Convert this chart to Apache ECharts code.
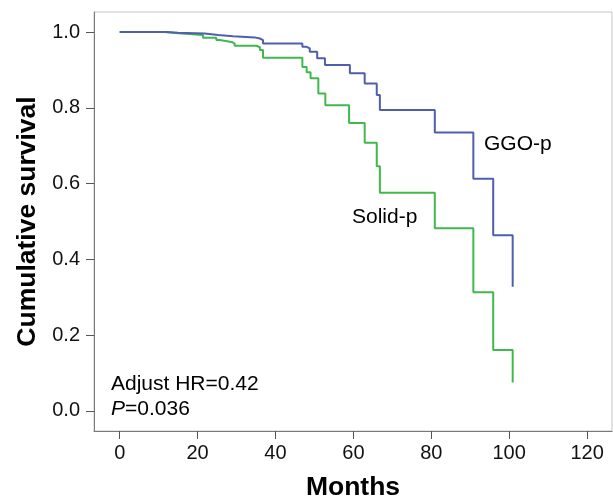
<!DOCTYPE html>
<html>
<head>
<meta charset="utf-8">
<script src="https://cdn.jsdelivr.net/npm/echarts@6/dist/echarts.min.js"></script>
<style>
  html, body { margin: 0; padding: 0; background: #fff; }
  #chart { width: 613px; height: 499px; }
</style>
</head>
<body>
<div id="chart"></div>
<script>
// Kaplan-Meier steps (months, survival after the drop)
const ggoMonths = [0, 12.0, 15.0, 21.8, 25.3, 29.1, 34.7, 36.0, 36.8, 46.9, 48.0, 48.8, 50.7, 52.7, 59.1, 62.9, 66.0, 66.8, 80.9, 90.8, 95.9, 100.9];
const ggoSurv   = [1.0, 0.998, 0.996, 0.992, 0.989, 0.986, 0.983, 0.979, 0.970, 0.961, 0.957, 0.948, 0.931, 0.913, 0.891, 0.864, 0.834, 0.794, 0.735, 0.613, 0.464, 0.328];

const solidMonths = [0, 11.6, 15.0, 21.4, 24.8, 25.7, 28.7, 29.5, 35.1, 36.0, 36.8, 46.9, 48.0, 49.0, 51.0, 52.8, 58.9, 62.9, 66.0, 66.8, 80.9, 90.8, 95.9, 100.9];
const solidSurv   = [1.0, 0.997, 0.992, 0.985, 0.979, 0.974, 0.970, 0.964, 0.960, 0.953, 0.932, 0.908, 0.894, 0.878, 0.838, 0.807, 0.760, 0.708, 0.646, 0.576, 0.482, 0.313, 0.161, 0.075];

const xTicks = [0, 20, 40, 60, 80, 100, 120];
const yTicks = [0, 0.2, 0.4, 0.6, 0.8, 1.0];

const blue = '#4f5fae';
const green = '#40b84c';
const font = 'Arial, "Liberation Sans", sans-serif';

const chart = echarts.init(document.getElementById('chart'), null, { renderer: 'canvas' });

function pairs(xs, ys) {
  return xs.map((x, i) => [x, ys[i]]);
}

const option = {
  animation: false,
  backgroundColor: '#fff',
  grid: {
    left: 94, top: 12, right: 1, bottom: 68,
    outerBoundsMode: 'none',
    containLabel: false,
    show: true,
    borderColor: '#c4c4c4',
    borderWidth: 1
  },
  xAxis: {
    type: 'value',
    min: -6.6,
    max: 126.4,
    name: 'Months',
    nameLocation: 'middle',
    nameGap: 43,
    nameTextStyle: { fontFamily: font, fontSize: 26.5, fontWeight: 'bold', color: '#000' },
    axisLine: { show: true, onZero: false, lineStyle: { color: '#7a7a7a', width: 1 } },
    axisTick: { show: true, length: 8, lineStyle: { color: '#555' }, customValues: xTicks },
    axisLabel: { fontFamily: font, fontSize: 20, color: '#111', margin: 12, customValues: xTicks },
    splitLine: { show: false }
  },
  yAxis: {
    type: 'value',
    min: -0.053,
    max: 1.053,
    name: 'Cumulative survival',
    nameLocation: 'middle',
    nameGap: 48,
    nameTextStyle: { fontFamily: font, fontSize: 26.5, fontWeight: 'bold', color: '#000' },
    axisLine: { show: true, onZero: false, lineStyle: { color: '#7a7a7a', width: 1 } },
    axisTick: { show: true, length: 8, lineStyle: { color: '#555' }, customValues: yTicks },
    axisLabel: {
      fontFamily: font, fontSize: 20, color: '#111', margin: 14,
      customValues: yTicks,
      formatter: v => v.toFixed(1)
    },
    splitLine: { show: false }
  },
  series: [
    {
      name: 'GGO-p',
      type: 'line',
      step: 'end',
      showSymbol: false,
      data: pairs(ggoMonths, ggoSurv),
      lineStyle: { color: blue, width: 2 },
      z: 3
    },
    {
      name: 'Solid-p',
      type: 'line',
      step: 'end',
      showSymbol: false,
      data: pairs(solidMonths, solidSurv),
      lineStyle: { color: green, width: 2 },
      z: 2
    }
  ],
  graphic: [
    {
      type: 'text', left: 484, top: 134,
      style: { text: 'GGO-p', fontFamily: font, fontSize: 21, fill: '#000' }
    },
    {
      type: 'text', left: 352, top: 207,
      style: { text: 'Solid-p', fontFamily: font, fontSize: 21, fill: '#000' }
    },
    {
      type: 'text', left: 111, top: 374,
      style: { text: 'Adjust HR=0.42', fontFamily: font, fontSize: 21, fill: '#000' }
    },
    {
      type: 'text', left: 111, top: 399,
      style: {
        text: '{i|P}=0.036', fontFamily: font, fontSize: 21, fill: '#000',
        rich: { i: { fontStyle: 'italic', fontFamily: font, fontSize: 21, fill: '#000' } }
      }
    }
  ]
};

chart.setOption(option);
</script>
</body>
</html>
